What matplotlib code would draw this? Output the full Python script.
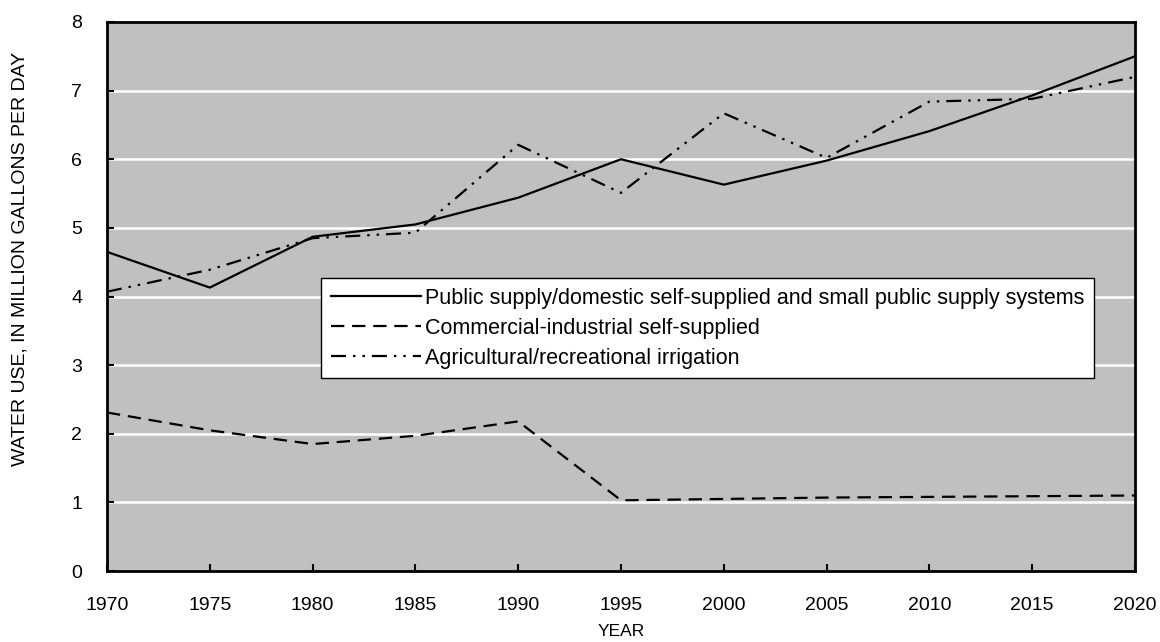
import matplotlib
matplotlib.use("Agg")
import matplotlib.pyplot as plt

years = [1970, 1975, 1980, 1985, 1990, 1995, 2000, 2005, 2010, 2015, 2020]
public = [4.65, 4.13, 4.87, 5.05, 5.44, 6.00, 5.63, 5.98, 6.41, 6.93, 7.50]
commercial = [2.31, 2.05, 1.85, 1.97, 2.18, 1.03, 1.05, 1.07, 1.08, 1.09, 1.10]
agricultural = [4.07, 4.39, 4.85, 4.93, 6.21, 5.51, 6.67, 6.02, 6.84, 6.88, 7.20]
labels = ["Public supply/domestic self-supplied and small public supply systems",
          "Commercial-industrial self-supplied",
          "Agricultural/recreational irrigation"]

plt.rcParams['font.family'] = ['Liberation Sans', 'DejaVu Sans']

fig = plt.figure(figsize=(11.6, 6.42), dpi=100)
L, R, T, B = 107, 1135, 22, 571
ax = fig.add_axes([L/1160, 1 - B/642, (R - L)/1160, (B - T)/642])
ax.set_facecolor('#c0c0c0')

for y in range(1, 8):
    ax.axhline(y, color='white', lw=1.8, zorder=1)

lw = 1.6
ax.plot(years, public, color='black', lw=lw, label=labels[0], zorder=3)
ax.plot(years, commercial, color='black', lw=lw, dashes=(6, 3.5), label=labels[1], zorder=3)
ax.plot(years, agricultural, color='black', lw=lw, dashes=(6.75, 3.15, 1.1, 3.15, 1.1, 3.15),
        label=labels[2], zorder=3)

ax.set_xlim(1970, 2020)
ax.set_ylim(0, 8)
ax.set_xticks(range(1970, 2021, 5))
ax.set_yticks(range(0, 9))
ax.tick_params(direction='in', length=5, width=1.5, labelsize=14)
ax.tick_params(axis='y', pad=18)
ax.tick_params(axis='x', pad=19)
for s in ax.spines.values():
    s.set_linewidth(2)
ax.set_xlabel("YEAR", fontsize=12.5)
ax.set_ylabel("WATER USE, IN MILLION GALLONS PER DAY", fontsize=14)
ax.xaxis.set_label_coords(0.5, (B - 624) / (B - T))
ax.yaxis.set_label_coords((29 - L) / (R - L), (B - 258.5) / (B - T))

leg = ax.legend(loc='upper left', bbox_to_anchor=((321 - L)/(R - L), (B - 278)/(B - T)),
                fontsize=15.5, frameon=True, fancybox=False, edgecolor='black',
                framealpha=1, handlelength=4.2, borderpad=0.45, labelspacing=0.42,
                handletextpad=0.2, borderaxespad=0)
leg.get_frame().set_linewidth(1)

fig.savefig("out.png", dpi=100)
